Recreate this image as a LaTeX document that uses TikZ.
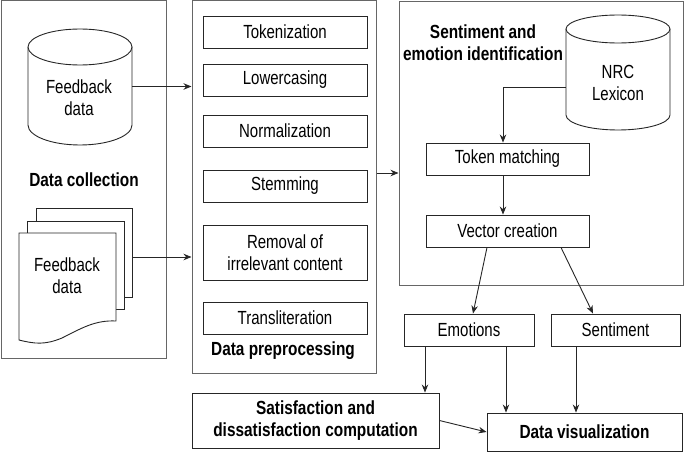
\documentclass[tikz,border=0pt]{standalone}
\usepackage{fontspec}
\setmainfont{Liberation Sans}[FakeStretch=0.79,BoldFeatures={FakeStretch=0.81}]
\usetikzlibrary{arrows.meta,calc}
\begin{document}
\begin{tikzpicture}[x=1pt,y=-1pt,
  every node/.style={font=\fontsize{19}{22}\selectfont, text=black},
  panel/.style={draw=black!60, line width=1pt, inner sep=0pt},
  box/.style={draw=black!85, line width=0.9pt, minimum height=32pt, inner sep=0pt, align=center},
  lbl/.style={font=\fontsize{19}{22}\selectfont\bfseries, align=center, inner sep=0pt},
  txt/.style={align=center, inner sep=0pt},
  shp/.style={draw=black!85, line width=0.9pt, fill=white},
  ghost/.style={inner sep=0pt},
  arr/.style={draw=black!85, line width=0.9pt, -{Stealth[length=8pt,width=6.5pt]}}
]
\useasboundingbox (0,0) rectangle (685,452);

% ---- panels
\node[panel, minimum width=165pt, minimum height=357pt] (coll) at (83.5,179.5) {};
\node[panel, minimum width=184pt, minimum height=372pt] (prep) at (284,187) {};
\node[panel, minimum width=284pt, minimum height=283pt] (senti) at (541,143.5) {};

% ---- data collection
\draw[shp] (28,47) -- (28,125) arc[start angle=180,end angle=360,x radius=52pt,y radius=20pt] -- (132,47);
\draw[shp] (80,47) ellipse[x radius=52pt, y radius=18pt];
\node[ghost, minimum width=104pt, minimum height=117pt] (cyl) at (80,86.5) {};
\node[txt] (cylT) at (79,97.5) {Feedback\\data};

\node[lbl] (collL) at (84,180) {Data collection};

\draw[shp] (36,208) rectangle (132,297);
\draw[shp] (27,221) rectangle (124,309);
\draw[shp] (19,233) -- (116,233) -- (116,321)
  .. controls (95,320) and (82,328) .. (62,338)
  .. controls (45,345) and (35,344) .. (19,340) -- cycle;
\node[ghost, minimum width=113pt, minimum height=135pt] (doc) at (75.5,275.5) {};
\node[txt] (docT) at (67,275.5) {Feedback\\data};

% ---- preprocessing
\node[box, minimum width=164pt] (tok) at (285,32) {Tokenization};
\node[box, minimum width=164pt] (low) at (285,80) {Lowercasing};
\node[box, minimum width=164pt] (norm) at (285,131) {Normalization};
\node[box, minimum width=164pt] (stem) at (285,186) {Stemming};
\node[box, minimum width=164pt, minimum height=55pt] (rem) at (285,252.5) {Removal of\\irrelevant content};
\node[box, minimum width=164pt] (trans) at (285,318) {Transliteration};
\node[lbl] (prepL) at (283,351) {Data preprocessing};

% ---- sentiment
\node[lbl] (sentiL) at (483,43) {Sentiment and\\emotion identification};
\draw[shp] (566,29) -- (566,115) arc[start angle=180,end angle=360,x radius=52pt,y radius=15pt] -- (670,29);
\draw[shp] (618,29) ellipse[x radius=52pt, y radius=14pt];
\node[ghost, minimum width=104pt, minimum height=115pt] (nrc) at (618,72.5) {};
\node[txt] (nrcT) at (618,83) {NRC\\Lexicon};

\node[box, minimum width=163pt] (tm) at (507.5,159) {Token matching};
\node[box, minimum width=163pt] (vc) at (507.5,231) {Vector creation};

\node[box, minimum width=130pt] (emo) at (469,330) {Emotions};
\node[box, minimum width=129pt] (sen) at (615.5,330) {Sentiment};

\node[box, minimum width=247pt, minimum height=55pt, font=\fontsize{19}{22}\selectfont\bfseries] (sat) at (315.5,420.5) {Satisfaction and\\dissatisfaction computation};
\node[box, minimum width=195pt, minimum height=38pt, font=\fontsize{19}{22}\selectfont\bfseries] (dv) at (584.5,432) {Data visualization};

% ---- connectors
\draw[arr] (cyl.east) -- (cyl.east -| prep.west);
\draw[arr] ([yshift=18.5pt]doc.east) -- ([yshift=18.5pt]doc.east -| prep.west);
\draw[arr] ([yshift=14pt]prep.east) -- ([yshift=14pt]prep.east -| senti.west);

\draw[arr] ([yshift=-14.5pt]nrc.west) -| ([xshift=-4.5pt]tm.north);
\draw[arr] ([xshift=-4.5pt]tm.south) -- ([xshift=-4.5pt]vc.north);

\draw[arr] ([xshift=-20.5pt]vc.south) -- ([xshift=4pt]emo.north);
\draw[arr] ([xshift=53.5pt]vc.south) -- ([xshift=-22.5pt]sen.north);

\draw[arr] ([xshift=-44pt]emo.south) -- ([xshift=-44pt]emo.south |- sat.north);
\draw[arr] ([xshift=37pt]emo.south) -- ([xshift=37pt]emo.south |- dv.north);
\draw[arr] ([xshift=-39.5pt]sen.south) -- ([xshift=-39.5pt]sen.south |- dv.north);
\draw[arr] (sat.east) -- (dv.west);
\end{tikzpicture}
\end{document}
